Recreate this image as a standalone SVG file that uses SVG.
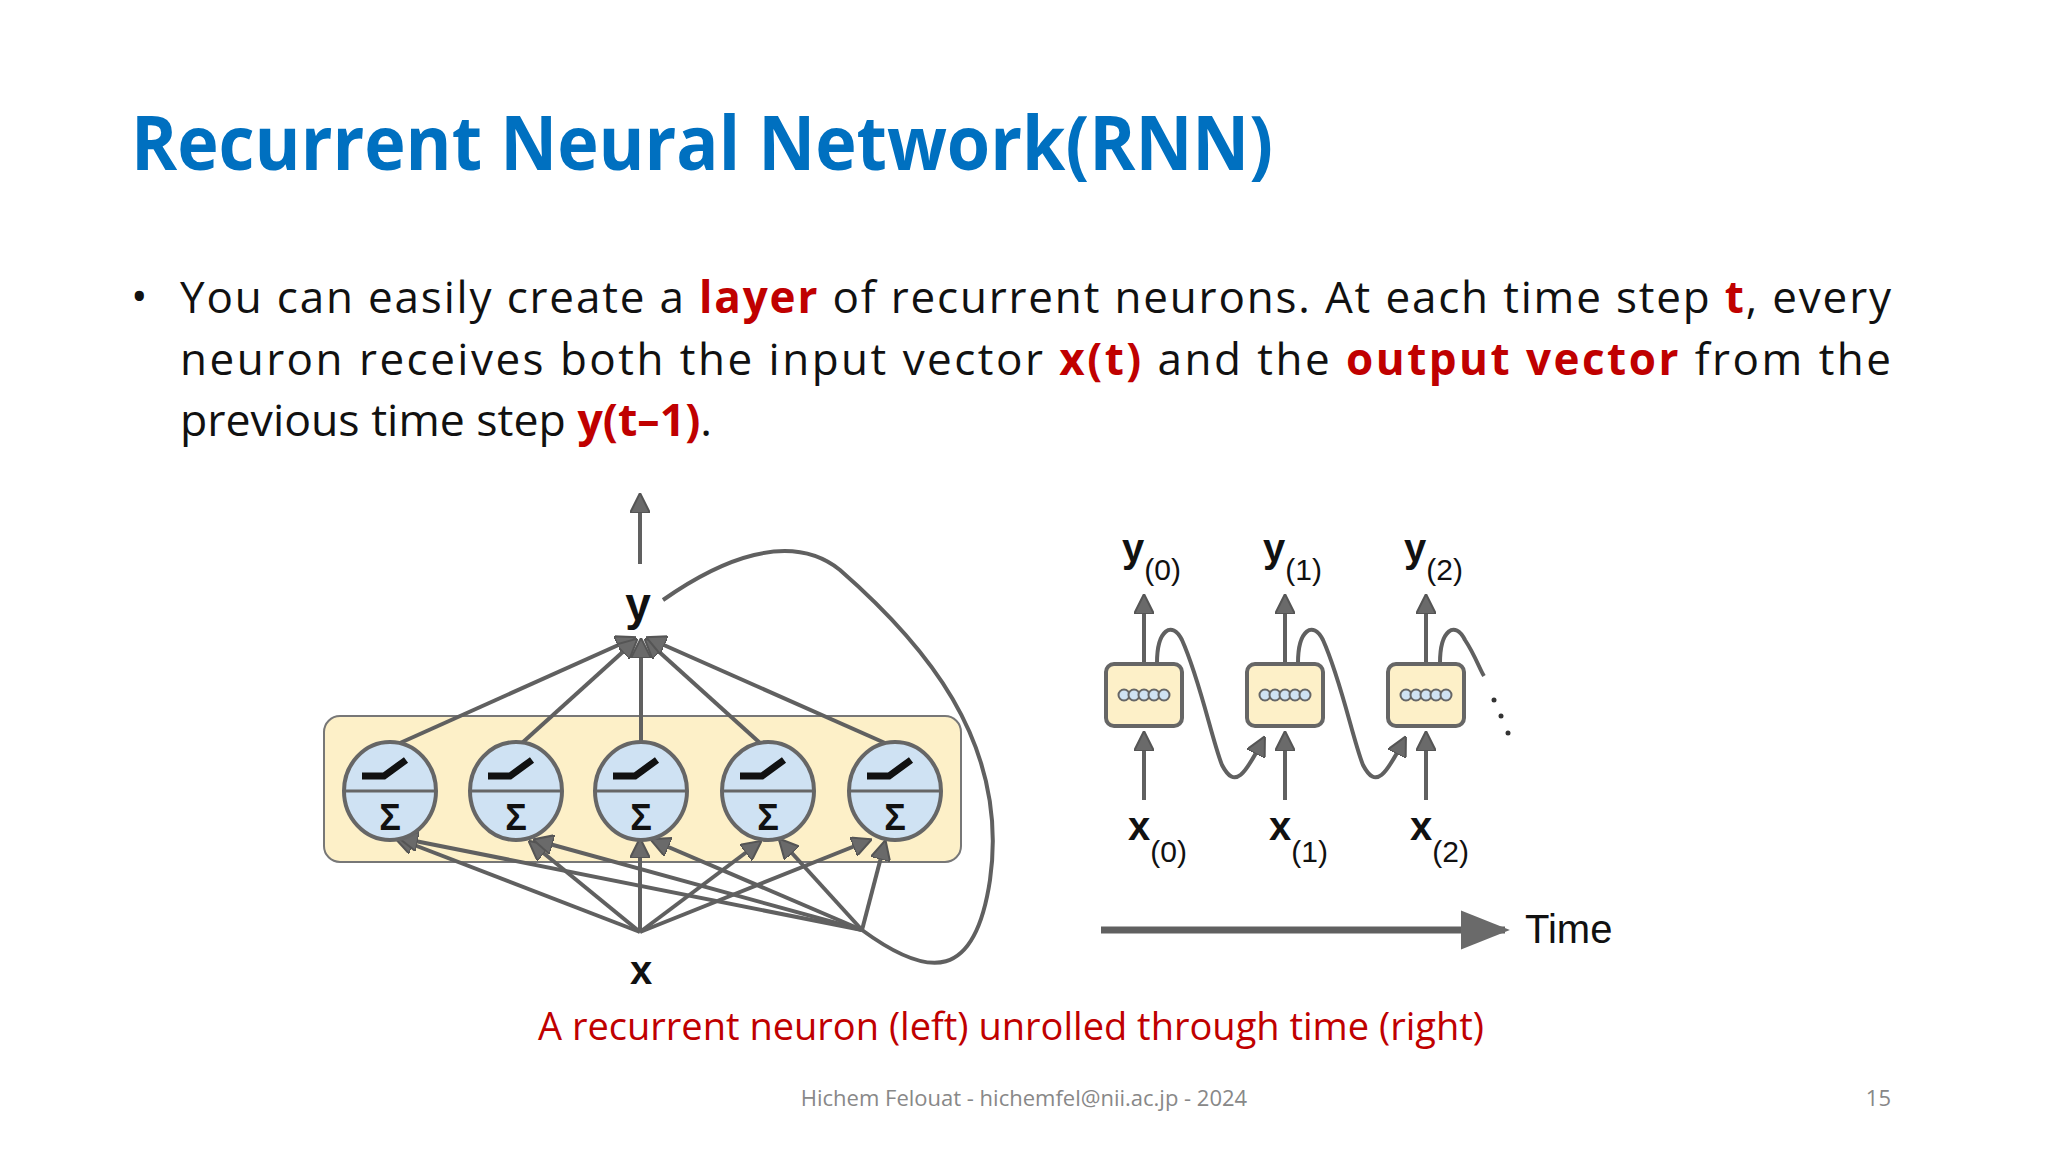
<svg xmlns="http://www.w3.org/2000/svg" width="2048" height="1152" viewBox="0 0 2048 1152">
<style>
.t{font-family:"Open Sans","Noto Sans",sans-serif}
.c{stroke:#606060;stroke-width:4;fill:none}
.lbl{font-family:"Liberation Sans",Arial,sans-serif;fill:#111}
.red{fill:#C00000;font-weight:bold}
</style>
<defs>
<marker id="ah" viewBox="0 0 10 10" refX="9" refY="5" markerWidth="5" markerHeight="5" orient="auto" markerUnits="strokeWidth">
<path d="M0,0 L10,5 L0,10 z" fill="#6a6a6a" stroke="#555" stroke-width="1"/>
</marker>
<marker id="big" viewBox="0 0 10 10" refX="9" refY="5" markerWidth="7" markerHeight="7" orient="auto" markerUnits="strokeWidth">
<path d="M0,1 L10,5 L0,9 z" fill="#6a6a6a"/>
</marker>
</defs>
<rect width="2048" height="1152" fill="#fff"/>
<text class="t" x="131" y="170" font-size="76" font-weight="bold" fill="#0070C0" textLength="1142" lengthAdjust="spacingAndGlyphs">Recurrent Neural Network(RNN)</text>
<g class="t" font-size="44" fill="#111">
<text x="131" y="312">•</text>
<text x="180" y="313" textLength="1711" lengthAdjust="spacing">You can easily create a <tspan class="red">layer</tspan> of recurrent neurons. At each time step <tspan class="red">t</tspan>, every</text>
<text x="180" y="375" textLength="1711" lengthAdjust="spacing">neuron receives both the input vector <tspan class="red">x(t)</tspan> and the <tspan class="red">output vector</tspan> from the</text>
<text x="180" y="436" textLength="532" lengthAdjust="spacingAndGlyphs">previous time step <tspan class="red">y(t–1)</tspan>.</text>
</g>
<text class="t" x="1011" y="1040" font-size="38" fill="#C00000" text-anchor="middle">A recurrent neuron (left) unrolled through time (right)</text>
<text class="t" x="1024" y="1106" font-size="22" fill="#888" text-anchor="middle">Hichem Felouat - hichemfel@nii.ac.jp - 2024</text>
<text class="t" x="1891" y="1106" font-size="22" fill="#888" text-anchor="end">15</text>

<g id="layer"><rect x="324" y="716" width="637" height="146" rx="16" fill="#fdf0c8" stroke="#777" stroke-width="2"/></g>
<g id="connectors">
<path class="c" d="M640,564 L640,495" marker-end="url(#ah)"/>
<path class="c" d="M400,743 L634,638" marker-end="url(#ah)"/>
<path class="c" d="M522,743 L636,640" marker-end="url(#ah)"/>
<path class="c" d="M641,741 L641,640" marker-end="url(#ah)"/>
<path class="c" d="M760,743 L646,640" marker-end="url(#ah)"/>
<path class="c" d="M885,743 L648,638" marker-end="url(#ah)"/>
<path class="c" d="M663,600 C720,560 790,530 840,570 C920,640 1010,740 990,880 C975,980 930,980 862,930"/>
<path class="c" d="M640,932 L396,838" marker-end="url(#ah)"/>
<path class="c" d="M640,932 L530,842" marker-end="url(#ah)"/>
<path class="c" d="M640,932 L640,840" marker-end="url(#ah)"/>
<path class="c" d="M640,932 L760,842" marker-end="url(#ah)"/>
<path class="c" d="M640,932 L870,840" marker-end="url(#ah)"/>
<path class="c" d="M862,930 L400,838" marker-end="url(#ah)"/>
<path class="c" d="M862,930 L535,840" marker-end="url(#ah)"/>
<path class="c" d="M862,930 L652,840" marker-end="url(#ah)"/>
<path class="c" d="M862,930 L780,840" marker-end="url(#ah)"/>
<path class="c" d="M862,930 L885,842" marker-end="url(#ah)"/>
<path class="c" d="M1144,663 L1144,596" marker-end="url(#ah)"/>
<path class="c" d="M1285,663 L1285,596" marker-end="url(#ah)"/>
<path class="c" d="M1426,663 L1426,596" marker-end="url(#ah)"/>
<path class="c" d="M1144,800 L1144,733" marker-end="url(#ah)"/>
<path class="c" d="M1285,800 L1285,733" marker-end="url(#ah)"/>
<path class="c" d="M1426,800 L1426,733" marker-end="url(#ah)"/>
<path class="c" d="M1157,663 C1157,630 1172,620 1182,640 C1200,680 1212,740 1222,765 C1235,790 1245,775 1264,738" marker-end="url(#ah)"/>
<path class="c" d="M1298,663 C1298,630 1313,620 1323,640 C1341,680 1353,740 1363,765 C1376,790 1386,775 1405,738" marker-end="url(#ah)"/>
<path class="c" d="M1440,663 C1440,630 1455,620 1465,640 C1475,655 1480,670 1484,676"/>
<path d="M1101,930 L1505,930" stroke="#606060" stroke-width="7" fill="none" marker-end="url(#big)"/>
</g>
<g fill="#333"><circle cx="1494" cy="700" r="2.5"/><circle cx="1501" cy="716" r="2.5"/><circle cx="1508" cy="733" r="2.5"/></g>

<g id="neurons" stroke="#666" stroke-width="4">
<g id="n1"><ellipse cx="390" cy="791" rx="46" ry="49" fill="#cfe2f3"/><line x1="344" y1="791" x2="436" y2="791" stroke-width="3"/><path d="M362,776 L384,776 L406,760" fill="none" stroke="#111" stroke-width="7"/><text class="lbl" x="390" y="830" font-size="36" font-weight="bold" text-anchor="middle" stroke="none">Σ</text></g>
<g id="n2"><ellipse cx="516" cy="791" rx="46" ry="49" fill="#cfe2f3"/><line x1="470" y1="791" x2="562" y2="791" stroke-width="3"/><path d="M488,776 L510,776 L532,760" fill="none" stroke="#111" stroke-width="7"/><text class="lbl" x="516" y="830" font-size="36" font-weight="bold" text-anchor="middle" stroke="none">Σ</text></g>
<g id="n3"><ellipse cx="641" cy="791" rx="46" ry="49" fill="#cfe2f3"/><line x1="595" y1="791" x2="687" y2="791" stroke-width="3"/><path d="M613,776 L635,776 L657,760" fill="none" stroke="#111" stroke-width="7"/><text class="lbl" x="641" y="830" font-size="36" font-weight="bold" text-anchor="middle" stroke="none">Σ</text></g>
<g id="n4"><ellipse cx="768" cy="791" rx="46" ry="49" fill="#cfe2f3"/><line x1="722" y1="791" x2="814" y2="791" stroke-width="3"/><path d="M740,776 L762,776 L784,760" fill="none" stroke="#111" stroke-width="7"/><text class="lbl" x="768" y="830" font-size="36" font-weight="bold" text-anchor="middle" stroke="none">Σ</text></g>
<g id="n5"><ellipse cx="895" cy="791" rx="46" ry="49" fill="#cfe2f3"/><line x1="849" y1="791" x2="941" y2="791" stroke-width="3"/><path d="M867,776 L889,776 L911,760" fill="none" stroke="#111" stroke-width="7"/><text class="lbl" x="895" y="830" font-size="36" font-weight="bold" text-anchor="middle" stroke="none">Σ</text></g>
</g>
<text class="lbl" x="638" y="620" font-size="46" font-weight="bold" text-anchor="middle">y</text>
<text class="lbl" x="641" y="984" font-size="40" font-weight="bold" text-anchor="middle">x</text>

<g id="cells" stroke="#666" stroke-width="4">
<g id="c0"><rect x="1106" y="664" width="76" height="62" rx="8" fill="#fdf0c8"/><g fill="#cfe2f3" stroke-width="2"><circle cx="1124" cy="695" r="5.5"/><circle cx="1134" cy="695" r="5.5"/><circle cx="1144" cy="695" r="5.5"/><circle cx="1154" cy="695" r="5.5"/><circle cx="1164" cy="695" r="5.5"/></g></g>
<g id="c1"><rect x="1247" y="664" width="76" height="62" rx="8" fill="#fdf0c8"/><g fill="#cfe2f3" stroke-width="2"><circle cx="1265" cy="695" r="5.5"/><circle cx="1275" cy="695" r="5.5"/><circle cx="1285" cy="695" r="5.5"/><circle cx="1295" cy="695" r="5.5"/><circle cx="1305" cy="695" r="5.5"/></g></g>
<g id="c2"><rect x="1388" y="664" width="76" height="62" rx="8" fill="#fdf0c8"/><g fill="#cfe2f3" stroke-width="2"><circle cx="1406" cy="695" r="5.5"/><circle cx="1416" cy="695" r="5.5"/><circle cx="1426" cy="695" r="5.5"/><circle cx="1436" cy="695" r="5.5"/><circle cx="1446" cy="695" r="5.5"/></g></g>
</g>
<g class="lbl">
<text x="1122" y="562" font-size="40" font-weight="bold">y<tspan dy="18" font-size="30" font-weight="normal">(0)</tspan></text>
<text x="1263" y="562" font-size="40" font-weight="bold">y<tspan dy="18" font-size="30" font-weight="normal">(1)</tspan></text>
<text x="1404" y="562" font-size="40" font-weight="bold">y<tspan dy="18" font-size="30" font-weight="normal">(2)</tspan></text>
<text x="1128" y="840" font-size="40" font-weight="bold">x<tspan dy="22" font-size="30" font-weight="normal">(0)</tspan></text>
<text x="1269" y="840" font-size="40" font-weight="bold">x<tspan dy="22" font-size="30" font-weight="normal">(1)</tspan></text>
<text x="1410" y="840" font-size="40" font-weight="bold">x<tspan dy="22" font-size="30" font-weight="normal">(2)</tspan></text>
<text x="1525" y="943" font-size="40">Time</text>
</g>
</svg>
